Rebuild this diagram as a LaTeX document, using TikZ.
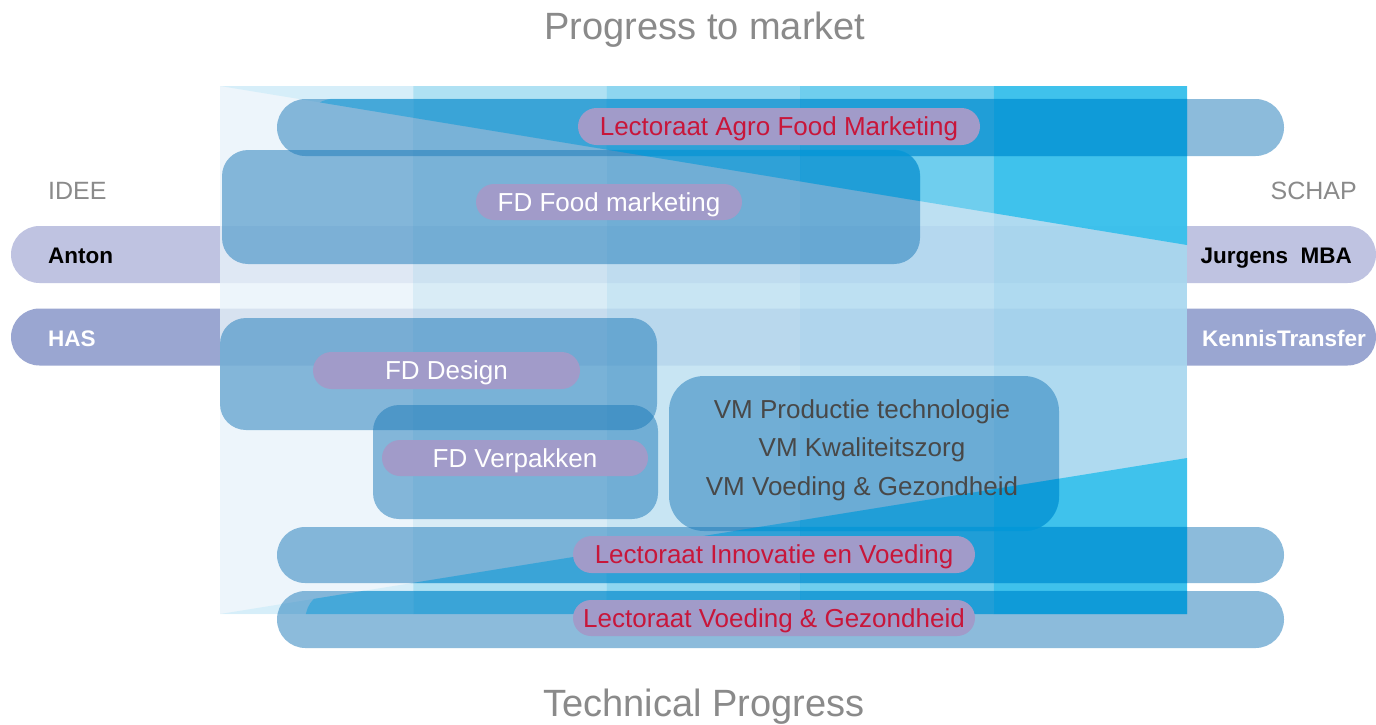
\documentclass[tikz,border=0pt]{standalone}
\usepackage{fontspec}
\setmainfont{Liberation Sans}
\usetikzlibrary{shapes.misc}
\definecolor{lavA}{RGB}{191,195,225}
\definecolor{lavB}{RGB}{154,166,209}
\definecolor{colA}{RGB}{233,243,250}
\definecolor{colB}{RGB}{209,233,245}
\definecolor{colC}{RGB}{191,225,242}
\definecolor{colD}{RGB}{180,220,241}
\definecolor{colE}{RGB}{167,215,239}
\definecolor{triT}{RGB}{20,185,235}
\definecolor{triS}{RGB}{0,155,220}
\definecolor{boxblue}{RGB}{27,121,185}
\definecolor{pillc}{RGB}{161,155,201}
\definecolor{redtxt}{RGB}{200,22,58}
\definecolor{graytxt}{RGB}{138,138,138}
\definecolor{vmtxt}{RGB}{72,72,72}
\tikzset{
  lavbar/.style={rounded rectangle, draw=none, inner sep=0pt, minimum height=57},
  bluebox/.style={draw=none, fill=boxblue, fill opacity=0.5, inner sep=0pt},
  pill/.style={rounded rectangle, draw=none, fill=pillc, inner sep=0pt, minimum height=37,
    font=\fontsize{26}{30}\selectfont, text height=18.7pt, text depth=0pt},
  redpill/.style={pill, text=redtxt},
  whitepill/.style={pill, text=white},
  sidelbl/.style={font=\fontsize{22.5}{26}\selectfont\bfseries, text height=16.2pt, text depth=0pt, inner sep=0pt},
  headlbl/.style={font=\fontsize{25}{30}\selectfont, text=graytxt, text height=18pt, text depth=0pt, inner sep=0pt},
  titlelbl/.style={font=\fontsize{38}{44}\selectfont, text=graytxt, text height=27.3pt, text depth=0pt, inner sep=0pt},
  vmlbl/.style={font=\fontsize{26}{30}\selectfont, text=vmtxt, text height=18.7pt, text depth=0pt, inner sep=0pt}
}
\begin{document}
\begin{tikzpicture}[x=1pt,y=-1pt]
\useasboundingbox (0,0) rectangle (1376,724);
\fill[white] (0,0) rectangle (1376,724);

% lavender bars (behind the field)
\node[lavbar, fill=lavA, minimum width=1365] (antonbar) at (693.5,254.5) {};
\node[lavbar, fill=lavB, minimum width=1365] (hasbar) at (693.5,337) {};

% field columns and weak triangles
\foreach \a/\b/\c/\p/\o in {220/413.4/colA/0.78/0.1, 413.4/606.8/colB/0.82/0.21, 606.8/800.2/colC/0.86/0.32, 800.2/993.6/colD/0.88/0.46, 993.6/1187/colE/0.9/0.72}{
  \fill[\c, fill opacity=\p] (\a,86) rectangle (\b,614);
  \fill[triT, fill opacity=\o] (\a,86) -- (\b,86) -- (\b,{86+0.16443*(\b-220)}) -- (\a,{86+0.16443*(\a-220)}) -- cycle;
  \fill[triT, fill opacity=\o] (\a,614) -- (\b,614) -- (\b,{614-0.16132*(\b-220)}) -- (\a,{614-0.16132*(\a-220)}) -- cycle;
}

% blue boxes
\node[bluebox, rounded rectangle, minimum width=1007, minimum height=57] (agrobar) at (780.5,127.5) {};
\node[bluebox, rectangle, rounded corners=26, minimum width=698, minimum height=114] (foodbox) at (571,207) {};
\node[bluebox, rectangle, rounded corners=26, minimum width=437, minimum height=112] (designbox) at (438.5,374) {};
\node[bluebox, rectangle, rounded corners=26, minimum width=285, minimum height=114] (verpbox) at (515.5,462) {};
\node[bluebox, rectangle, rounded corners=35, minimum width=390, minimum height=155] (vmbox) at (864,453.5) {};
\node[bluebox, rounded rectangle, minimum width=1007, minimum height=56] (innovbar) at (780.5,555) {};
\node[bluebox, rounded rectangle, minimum width=1007, minimum height=57] (voedbar) at (780.5,619.5) {};

% strong triangle inside boxes (top triangle)
\foreach \bx/\r in {agrobar/28, foodbox/26}{
  \begin{scope}
    \clip[rounded corners=\r] (\bx.south west) rectangle (\bx.north east);
    \foreach \a/\b/\s in {220/413.4/0.42, 413.4/606.8/0.42, 606.8/800.2/0.43, 800.2/993.6/0.52, 993.6/1187/0.64}{
      \fill[triS, fill opacity=\s] (\a,86) -- (\b,86) -- (\b,{86+0.16443*(\b-220)}) -- (\a,{86+0.16443*(\a-220)}) -- cycle;
    }
  \end{scope}
}
% strong triangle inside boxes (bottom triangle)
\foreach \bx/\r in {vmbox/35, innovbar/28, voedbar/28}{
  \begin{scope}
    \clip[rounded corners=\r] (\bx.south west) rectangle (\bx.north east);
    \foreach \a/\b/\s in {220/413.4/0.42, 413.4/606.8/0.42, 606.8/800.2/0.43, 800.2/993.6/0.52, 993.6/1187/0.64}{
      \fill[triS, fill opacity=\s] (\a,614) -- (\b,614) -- (\b,{614-0.16132*(\b-220)}) -- (\a,{614-0.16132*(\a-220)}) -- cycle;
    }
  \end{scope}
}

% pills
\node[redpill, minimum width=402] (agro) at (779,126.5) {Lectoraat Agro Food Marketing};
\node[whitepill, minimum width=266, minimum height=36] (fdfood) at (609,202) {FD Food marketing};
\node[whitepill, minimum width=267] (fddesign) at (446.5,370.5) {FD Design};
\node[whitepill, minimum width=266, minimum height=36] (fdverp) at (515,458) {FD Verpakken};
\node[redpill, minimum width=402] (innov) at (774,554.5) {Lectoraat Innovatie en Voeding};
\node[redpill, minimum width=402, minimum height=36] (voed) at (774,618) {Lectoraat Voeding \& Gezondheid};

% VM lines
\node[vmlbl] (vm1) at (862,409) {VM Productie technologie};
\node[vmlbl] (vm2) at (862,447.5) {VM Kwaliteitszorg};
\node[vmlbl] (vm3) at (862,486) {VM Voeding \& Gezondheid};

% side labels
\node[sidelbl, anchor=west, text=black] (anton) at (48,255) {Anton};
\node[sidelbl, anchor=east, text=black] (jurgens) at (1352,255) {Jurgens\ \ MBA};
\node[sidelbl, anchor=west, text=white] (has) at (48,338) {HAS};
\node[sidelbl, anchor=east, text=white] (kennis) at (1366,338) {KennisTransfer};

% headings
\node[headlbl, anchor=west] (idee) at (48,190) {IDEE};
\node[headlbl, anchor=east] (schap) at (1357,190) {SCHAP};
\node[titlelbl] (title) at (705,26) {Progress to market};
\node[titlelbl] (bottom) at (704,703) {Technical Progress};
\end{tikzpicture}
\end{document}
